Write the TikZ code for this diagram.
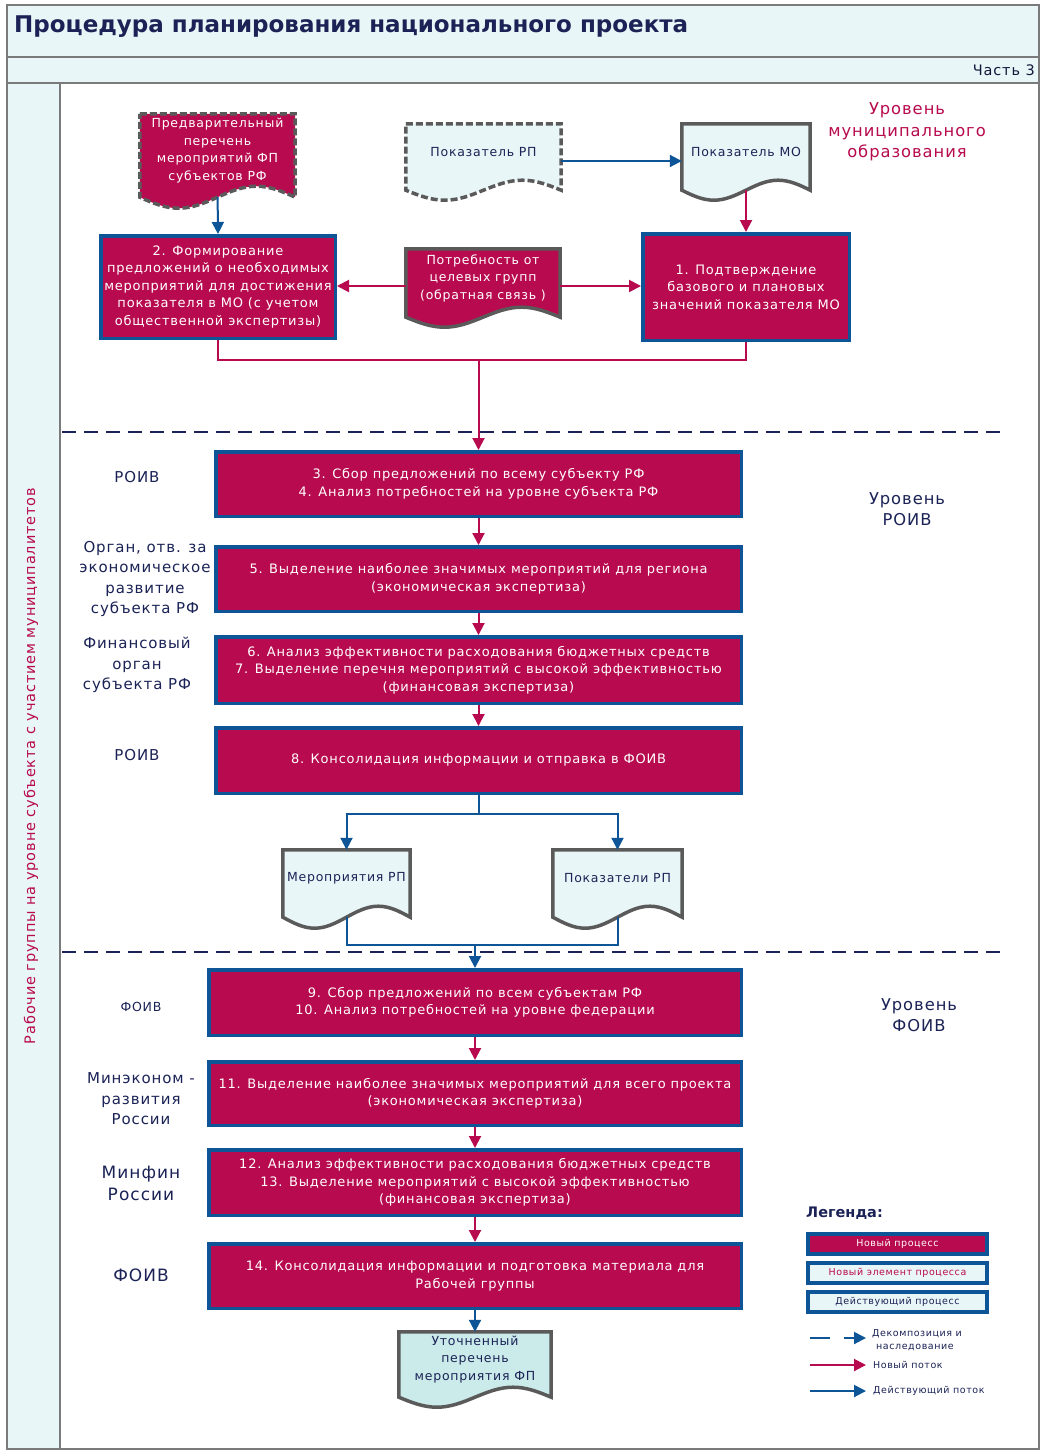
\documentclass[tikz,border=0pt]{standalone}
\usepackage{fontspec}
\setmainfont{DejaVu Sans}[LetterSpace=6]
\newfontfamily\titlefont{DejaVu Sans}
\usetikzlibrary{arrows.meta,calc,backgrounds}
\definecolor{crim}{HTML}{B80A4E}
\definecolor{bbor}{HTML}{0D5596}
\definecolor{navy}{HTML}{1B2356}
\definecolor{lcyan}{HTML}{E9F6F7}
\definecolor{lteal}{HTML}{CBEBEA}
\definecolor{gframe}{HTML}{7A7A7A}
\definecolor{gdoc}{HTML}{5A5A5A}
\pgfdeclarelayer{bgzero}
\pgfsetlayers{bgzero,background,main}
\newcommand\docshape[4]{%
\begin{pgfonlayer}{background}
\path[#2] (#1.north west) -- (#1.north east) -- ($(#1.south east)+(0,#4)$)
  sin ($(#1.south east)!0.25!(#1.south west)+(0,#4-#3)$)
  cos ($(#1.south)+(0,#4)$)
  sin ($(#1.south east)!0.75!(#1.south west)+(0,#4+#3)$)
  cos ($(#1.south west)+(0,#4)$) -- cycle;
\end{pgfonlayer}}
\tikzset{
  proc/.style={draw=bbor, line width=3.5pt, fill=crim, text=white, align=center, inner sep=0pt,
    font=\fontsize{13}{17.5}\selectfont},
  docn/.style={inner sep=0pt, align=center, font=\fontsize{12.5}{17.5}\selectfont},
  docnew/.style={fill=crim, draw=gdoc, line width=3.5pt},
  docnewd/.style={fill=crim, draw=gdoc, line width=3.5pt, dash pattern=on 7pt off 3pt},
  docoldd/.style={fill=lcyan, draw=gdoc, line width=3.5pt, dash pattern=on 7pt off 3pt},
  docold/.style={fill=lcyan, draw=gdoc, line width=3.5pt},
  docut/.style={fill=lteal, draw=gdoc, line width=3.5pt},
  lab/.style={text=navy, align=center, font=\fontsize{15}{20.5}\selectfont},
  lvl/.style={text=navy, align=center, font=\fontsize{16.3}{21.5}\selectfont},
  newflow/.style={draw=crim, line width=2pt},
  oldflow/.style={draw=bbor, line width=2pt},
  tip/.style={-{Triangle[length=12pt,width=12pt]}},
  legbox/.style={draw=bbor, line width=4pt, minimum width=179pt, minimum height=20pt, inner sep=0pt,
    font=\fontsize{9.5}{11}\selectfont},
  legtxt/.style={text=navy, anchor=west, align=left, font=\fontsize{9.5}{13}\selectfont, inner sep=0pt},
  sep/.style={draw=navy, line width=2pt, dash pattern=on 14pt off 8pt}
}
\begin{document}
\begin{tikzpicture}[x=1pt,y=-1pt]
\useasboundingbox (0,0) rectangle (1047,1454);
\begin{pgfonlayer}{bgzero}
\fill[white] (0,0) rectangle (1047,1454);
\filldraw[fill=lcyan, draw=gframe, line width=2.5pt] (7,5) rectangle (1039,57);
\filldraw[fill=lcyan, draw=gframe, line width=2.5pt] (7,57) rectangle (1039,83);
\filldraw[fill=lcyan, draw=gframe, line width=2.5pt] (7,83) rectangle (60,1449);
\filldraw[fill=white, draw=gframe, line width=2.5pt] (60,83) rectangle (1039,1449);
\draw[sep] (62,432) -- (1000,432);
\draw[sep] (62,952) -- (1000,952);
\end{pgfonlayer}

\node[anchor=west, text=navy, font=\titlefont\bfseries\fontsize{23}{27}\selectfont, inner sep=0pt] (title) at (14,27) {Процедура планирования национального проекта};
\node[anchor=east, text=navy!70!black, font=\fontsize{14.5}{16}\selectfont, inner sep=0pt] (part) at (1035,70) {Часть 3};
\node[rotate=90, text=crim, font=\fontsize{14.5}{16}\selectfont, inner sep=0pt] (strip) at (31,766) {Рабочие группы на уровне субъекта с участием муниципалитетов};

% documents
\node[docn, text=white, minimum width=155pt, minimum height=73pt] (docPred) at (217.5,150.5) {Предварительный\\перечень\\мероприятий ФП\\субъектов РФ};
\docshape{docPred}{docnewd}{11}{10}
\node[docn, text=navy, minimum width=155pt, minimum height=56pt] (docRP) at (483.5,152) {Показатель РП};
\docshape{docRP}{docoldd}{10}{10}
\node[docn, text=navy, minimum width=128pt, minimum height=56pt] (docMO) at (746,152) {Показатель МО};
\docshape{docMO}{docold}{10}{10}
\node[docn, text=white, minimum width=154pt, minimum height=58pt] (docPotr) at (483,278) {Потребность от\\целевых групп\\(обратная связь )};
\docshape{docPotr}{docnew}{10}{10}
\node[docn, text=navy, minimum width=127pt, minimum height=57pt] (docMer) at (346.5,878.5) {Мероприятия РП};
\docshape{docMer}{docold}{11}{10}
\node[docn, text=navy, minimum width=129pt, minimum height=57pt] (docPok) at (617.5,878.5) {Показатели РП};
\docshape{docPok}{docold}{11}{10}
\node[docn, text=navy, minimum width=152pt, minimum height=55pt] (docUt) at (475,1359.5) {Уточненный\\перечень\\мероприятия ФП};
\docshape{docUt}{docut}{10}{10}

% process boxes
\node[proc, minimum width=234.5pt, minimum height=102.5pt] (box2) at (218,287) {2. Формирование\\предложений о необходимых\\мероприятий для достижения\\показателя в МО (с учетом\\общественной экспертизы)};
\node[proc, minimum width=206.5pt, minimum height=106.5pt] (box1) at (746,287) {1. Подтверждение\\базового и плановых\\значений показателя МО};
\node[proc, minimum width=525.5pt, minimum height=64.5pt] (box3) at (478.5,484) {3. Сбор предложений по всему субъекту РФ\\4. Анализ потребностей на уровне субъекта РФ};
\node[proc, minimum width=525.5pt, minimum height=64.5pt] (box5) at (478.5,579) {5. Выделение наиболее значимых мероприятий для региона\\(экономическая экспертиза)};
\node[proc, minimum width=525.5pt, minimum height=66.5pt] (box6) at (478.5,670) {6. Анализ эффективности расходования бюджетных средств\\7. Выделение перечня мероприятий с высокой эффективностью\\(финансовая экспертиза)};
\node[proc, minimum width=525.5pt, minimum height=65.5pt] (box8) at (478.5,760.5) {8. Консолидация информации и отправка в ФОИВ};
\node[proc, minimum width=532.5pt, minimum height=65.5pt] (box9) at (475,1002.5) {9. Сбор предложений по всем субъектам РФ\\10. Анализ потребностей на уровне федерации};
\node[proc, minimum width=532.5pt, minimum height=63.5pt] (box11) at (475,1093.5) {11. Выделение наиболее значимых мероприятий для всего проекта\\(экономическая экспертиза)};
\node[proc, minimum width=532.5pt, minimum height=65.5pt] (box12) at (475,1182.5) {12. Анализ эффективности расходования бюджетных средств\\13. Выделение мероприятий с высокой эффективностью\\(финансовая экспертиза)};
\node[proc, minimum width=532.5pt, minimum height=64.5pt] (box14) at (475,1276) {14. Консолидация информации и подготовка материала для\\Рабочей группы};

% labels
\node[lvl, text=crim] (lvlMO) at (907,132) {Уровень\\муниципального\\образования};
\node[lvl] (lvlR) at (907,509) {Уровень\\РОИВ};
\node[lvl] (lvlF) at (919,1015) {Уровень\\ФОИВ};
\node[lab] (lab3) at (137,477) {РОИВ};
\node[lab] (lab5) at (145,579) {Орган, отв. за\\экономическое\\развитие\\субъекта РФ};
\node[lab] (lab6) at (137,665) {Финансовый\\орган\\субъекта РФ};
\node[lab] (lab8) at (137,755) {РОИВ};
\node[lab, font=\fontsize{12.5}{16}\selectfont] (lab9) at (141,1007) {ФОИВ};
\node[lab] (lab11) at (141,1099) {Минэконом -\\развития\\России};
\node[lab, font=\fontsize{17}{22}\selectfont] (lab12) at (141,1183) {Минфин\\России};
\node[lab, font=\fontsize{17}{22}\selectfont] (lab14) at (141,1275) {ФОИВ};

% connectors top
\draw[oldflow, tip, shorten <=10pt] (docPred.south) -- (box2.north);
\draw[oldflow, tip] ([yshift=-9pt]docRP.east) -- ([yshift=-9pt]docMO.west);
\draw[newflow, tip, shorten <=10pt] (docMO.south) -- (box1.north);
\draw[newflow, tip] ([yshift=-8pt]docPotr.west) -- ([yshift=-8pt]docPotr.west -| box2.east);
\draw[newflow, tip] ([yshift=-8pt]docPotr.east) -- ([yshift=-8pt]docPotr.east -| box1.west);
\coordinate (m1) at (478.5,360);
\draw[newflow] (box2.south) |- (m1);
\draw[newflow] (box1.south) |- (m1);
\draw[newflow, tip] (m1) -- (box3.north);
\draw[newflow, tip] (box3.south) -- (box5.north);
\draw[newflow, tip] (box5.south) -- (box6.north);
\draw[newflow, tip] (box6.south) -- (box8.north);
\coordinate (s1) at (478.5,814);
\draw[oldflow] (box8.south) -- (s1);
\draw[oldflow, tip] (s1) -| (docMer.north);
\draw[oldflow, tip] (s1) -| (docPok.north);
\coordinate (j2) at (475,945);
\draw[oldflow, shorten <=10pt] (docMer.south) |- (j2);
\draw[oldflow, shorten <=10pt] (docPok.south) |- (j2);
\draw[oldflow, tip] (j2) -- (box9.north);
\draw[newflow, tip] (box9.south) -- (box11.north);
\draw[newflow, tip] (box11.south) -- (box12.north);
\draw[newflow, tip] (box12.south) -- (box14.north);
\draw[oldflow, tip] (box14.south) -- (docUt.north);

% legend
\node[anchor=west, text=navy, font=\titlefont\bfseries\fontsize{14.5}{16}\selectfont, inner sep=0pt] (legT) at (806,1213) {Легенда:};
\node[legbox, fill=crim, text=white] (leg1) at (897.5,1244) {Новый процесс};
\node[legbox, fill=lcyan, text=crim] (leg2) at (897.5,1272.5) {Новый элемент процесса};
\node[legbox, fill=lcyan, text=navy] (leg3) at (897.5,1301.5) {Действующий процесс};
\coordinate (a1s) at (810,1338); \coordinate (a1e) at (866,1338);
\coordinate (a2s) at (810,1365); \coordinate (a2e) at (866,1365);
\coordinate (a3s) at (810,1391); \coordinate (a3e) at (866,1391);
\draw[oldflow, tip, dash pattern=on 20pt off 14pt] (a1s) -- (a1e);
\draw[newflow, tip] (a2s) -- (a2e);
\draw[oldflow, tip] (a3s) -- (a3e);
\node[legtxt] (t1) at (872,1340) {\hspace*{0pt}Декомпозиция и\\\hspace*{4pt}наследование};
\node[legtxt] (t2) at (873,1365) {Новый поток};
\node[legtxt] (t3) at (873,1391) {Действующий поток};
\end{tikzpicture}
\end{document}
